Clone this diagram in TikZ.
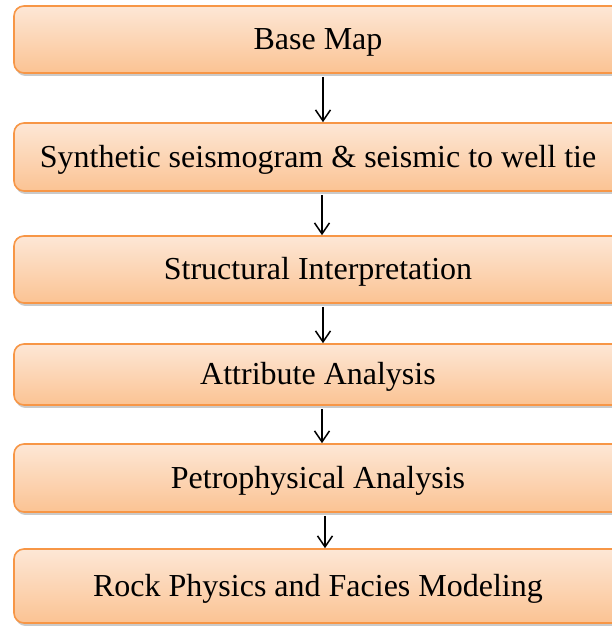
\documentclass[tikz,border=0pt]{standalone}
\usepackage{fontspec}
\setmainfont{Liberation Serif}
\usetikzlibrary{shadows,arrows.meta}
\definecolor{boxborder}{HTML}{F79646}
\definecolor{boxtop}{HTML}{FDE7D6}
\definecolor{boxbot}{HTML}{FBC393}
\tikzset{
  stepbox/.style={draw=boxborder, line width=1.6pt, rounded corners=10pt,
    top color=boxtop, bottom color=boxbot, minimum width=608pt,
    inner sep=0pt, font=\fontsize{32}{36}\selectfont, text height=21pt, text depth=0pt,
    drop shadow={shadow xshift=1.5pt, shadow yshift=-3pt, opacity=0.35, fill=black!60}},
  arr/.style={line width=1.5pt, -{Straight Barb[length=11pt,width=15pt,line width=1.5pt]}, shorten <=3pt}
}
\begin{document}
\begin{tikzpicture}[x=1pt,y=1pt]
\useasboundingbox (0,0) rectangle (612,626);
\clip (0,0) rectangle (612,626);
\node[stepbox, minimum height=67pt] (b1) at (318,{626-39.5}) {Base Map};
\node[stepbox, minimum height=68pt] (b2) at (318,{626-157}) {Synthetic seismogram \& seismic to well tie};
\node[stepbox, minimum height=67pt] (b3) at (318,{626-269.5}) {Structural Interpretation};
\node[stepbox, minimum height=61pt] (b4) at (318,{626-374.5}) {Attribute Analysis};
\node[stepbox, minimum height=68pt] (b5) at (318,{626-478}) {Petrophysical Analysis};
\node[stepbox, minimum height=74pt] (b6) at (318,{626-586}) {Rock Physics and Facies Modeling};
\draw[arr] ([xshift=5pt]b1.south) -- ([xshift=5pt]b2.north);
\draw[arr] ([xshift=4pt]b2.south) -- ([xshift=4pt]b3.north);
\draw[arr] ([xshift=5pt]b3.south) -- ([xshift=5pt]b4.north);
\draw[arr] ([xshift=4pt]b4.south) -- ([xshift=4pt]b5.north);
\draw[arr] ([xshift=7pt]b5.south) -- ([xshift=7pt]b6.north);
\end{tikzpicture}
\end{document}
